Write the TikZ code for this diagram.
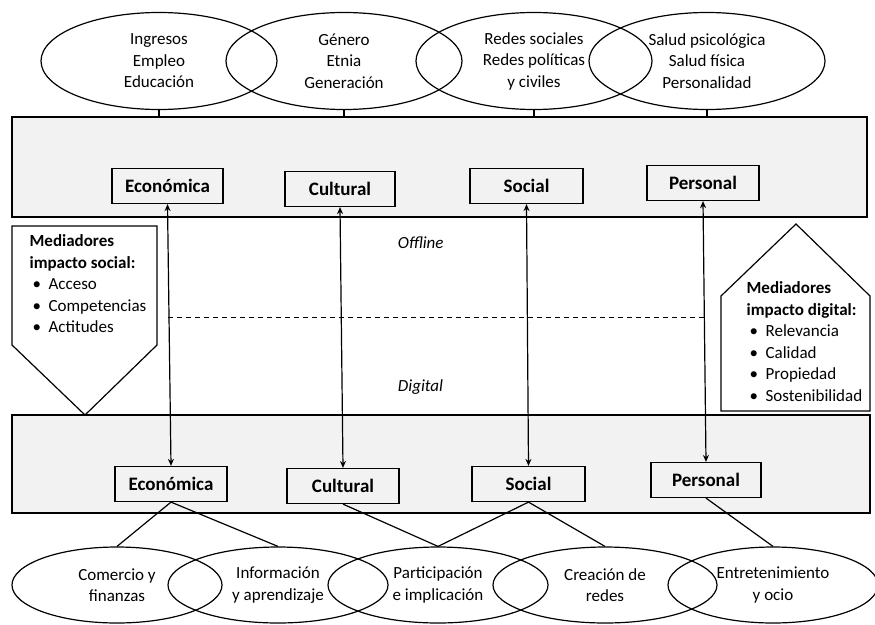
\documentclass[tikz,border=0pt]{standalone}
\usepackage{fontspec}
\setmainfont{Carlito}
\usetikzlibrary{shapes.geometric}
\usetikzlibrary{arrows.meta}
\definecolor{panelgray}{HTML}{F2F2F2}
\newcommand{\itembul}{\hspace*{3pt}\makebox[16pt][l]{\textbullet}}

\begin{document}
\begin{tikzpicture}[x=1pt,y=-1pt,line width=1.2pt,
    >={Stealth[length=7pt,width=6pt]},
    every node/.style={font=\fontsize{17}{21.5}\selectfont},
    oval/.style={draw,ellipse,inner sep=0pt,align=center},
    panel/.style={draw,fill=panelgray,inner sep=0pt},
    dimbox/.style={draw,fill=panelgray,inner sep=0pt,minimum width=112,
      minimum height=35,font=\fontsize{19}{22}\selectfont\bfseries}]
  \useasboundingbox (0,0) rectangle (875,624);

  % resources
  \node[oval,minimum width=236,minimum height=97] (ing) at (159,61) {Ingresos\\Empleo\\Educación};
  \node[oval,minimum width=236,minimum height=97] (gen) at (344,61) {Género\\Etnia\\Generación};
  \node[oval,minimum width=236,minimum height=97] (red) at (534,61) {Redes sociales\\Redes políticas\\y civiles};
  \node[oval,minimum width=236,minimum height=97] (sal) at (707,61) {Salud psicológica\\Salud física\\Personalidad};

  % panels
  \node[panel,minimum width=855,minimum height=100] (offpanel) at (439.5,167) {};
  \node[panel,minimum width=858,minimum height=98] (digpanel) at (441,464) {};

  \draw (ing.south) -- (ing.south |- offpanel.north);
  \draw (gen.south) -- (gen.south |- offpanel.north);
  \draw (red.south) -- (red.south |- offpanel.north);
  \draw (sal.south) -- (sal.south |- offpanel.north);

  % offline fields
  \node[dimbox,minimum width=111] (eco1) at (167.5,186) {Económica};
  \node[dimbox,minimum width=110] (cul1) at (340,189) {Cultural};
  \node[dimbox,minimum width=113] (soc1) at (526.5,186) {Social};
  \node[dimbox] (per1) at (703,183) {Personal};

  % digital fields
  \node[dimbox] (eco2) at (171,484) {Económica};
  \node[dimbox] (cul2) at (343,486) {Cultural};
  \node[dimbox,minimum width=113] (soc2) at (528.5,484) {Social};
  \node[dimbox,minimum width=110] (per2) at (706,480) {Personal};

  \draw[<->] (eco1.south) -- (eco2.north);
  \draw[<->] (cul1.south) -- (cul2.north);
  \draw[<->] (soc1.south) -- (soc2.north);
  \draw[<->] (per1.south) -- (per2.north);

  \coordinate (dashl) at (168,317);
  \coordinate (dashr) at (706,317);
  \draw[dash pattern=on 5pt off 4pt,line width=1pt] (dashl) -- (dashr);

  \node[anchor=west,font=\fontsize{17}{21.5}\selectfont\itshape] (offl) at (394,243) {Offline};
  \node[anchor=west,font=\fontsize{17}{21.5}\selectfont\itshape] (digl) at (394,387) {Digital};

  % mediators
  \draw (12,226) -- (157,226) -- (157,345) -- (85,415) -- (12,345) -- cycle;
  \node[anchor=north west,align=left,inner sep=0pt] (medsoc) at (29,234)
    {\textbf{Mediadores}\\\textbf{impacto social:}\\\itembul Acceso\\\itembul Competencias\\\itembul Actitudes};
  \draw (721,411) -- (870,411) -- (870,296) -- (796,224) -- (721,296) -- cycle;
  \node[anchor=north west,align=left,inner sep=0pt] (meddig) at (746,281)
    {\textbf{Mediadores}\\\textbf{impacto digital:}\\\itembul Relevancia\\\itembul Calidad\\\itembul Propiedad\\\itembul Sostenibilidad};

  % outcomes
  \node[oval,minimum width=210,minimum height=76] (com) at (117,585) {Comercio y\\finanzas};
  \node[oval,minimum width=220,minimum height=76] (inf) at (278,585) {Información\\y aprendizaje};
  \node[oval,minimum width=220,minimum height=76] (par) at (438,585) {Participación\\e implicación};
  \node[oval,minimum width=224,minimum height=76] (cre) at (605,585) {Creación de\\redes};
  \node[oval,minimum width=210,minimum height=76] (ent) at (773,585) {Entretenimiento\\y ocio};

  \draw (eco2.south) -- (com.north);
  \draw (eco2.south) -- (inf.north);
  \draw (cul2.south) -- (par.north);
  \draw (soc2.south) -- (par.north);
  \draw (soc2.south) -- (cre.north);
  \draw (per2.south) -- (ent.north);
\end{tikzpicture}
\end{document}
